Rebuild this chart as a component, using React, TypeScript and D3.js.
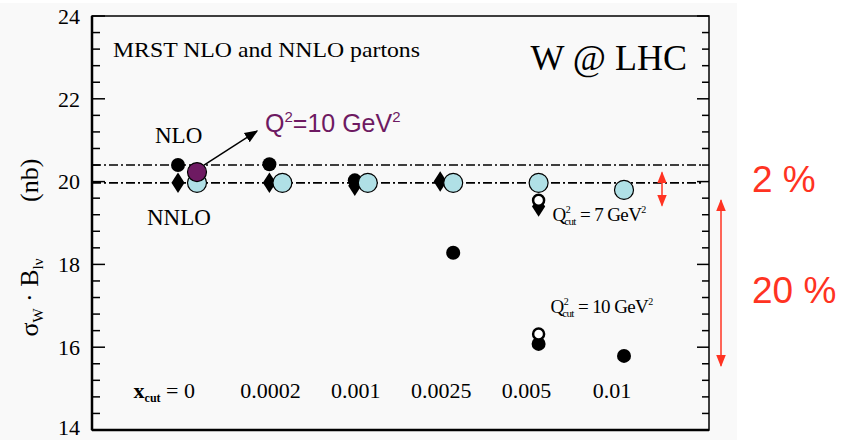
import React, { useEffect, useRef } from "react";
import * as d3 from "d3";

// x_cut categories (labels under the points)
const categories = ["0", "0.0002", "0.001", "0.0025", "0.005", "0.01"];
// sigma_W * B (nb), one per category (NaN = no point)
const nloBlack = [20.4, 20.42, 20.03, 18.28, 16.08, 15.79];
const nnloBlack = [19.97, 19.97, 19.9, 20.0, 19.4, NaN];
const openQ7 = [NaN, NaN, NaN, NaN, 19.55, NaN];
const openQ10 = [NaN, NaN, NaN, NaN, 16.32, NaN];
const nnloCyan = [19.97, 19.97, 19.97, 19.97, 19.97, 19.8];
const purpleQ10 = [20.23, NaN, NaN, NaN, NaN, NaN];
const refLevels = [20.4, 19.97];
const yTicks = [14, 16, 18, 20, 22, 24];

const W = 842, H = 440;
const L = 92, R = 709, T = 16, B = 430;
const serif = "'Liberation Serif', 'Times New Roman', serif";
const sans = "'Liberation Sans', Arial, sans-serif";
const red = "#ff3322";

const App = () => {
  const ref = useRef<SVGSVGElement | null>(null);

  useEffect(() => {
    const svg = d3.select(ref.current);
    svg.selectAll("*").remove();

    const y = d3.scaleLinear().domain([14, 24]).range([B, T]);
    const x = d3.scalePoint<string>().domain(categories).range([L + 105, R - 85]);

    const defs = svg.append("defs");
    defs.append("marker").attr("id", "ah").attr("viewBox", "0 0 10 10")
      .attr("refX", 9).attr("refY", 5).attr("markerWidth", 9).attr("markerHeight", 9)
      .attr("orient", "auto").append("path").attr("d", "M0,1 L10,5 L0,9 z").attr("fill", "#000");
    defs.append("marker").attr("id", "rh").attr("viewBox", "0 0 10 10")
      .attr("refX", 9).attr("refY", 5).attr("markerWidth", 8).attr("markerHeight", 8)
      .attr("orient", "auto-start-reverse").append("path").attr("d", "M0,1 L10,5 L0,9 z").attr("fill", red);

    svg.append("rect").attr("x", 0).attr("y", 3).attr("width", 737).attr("height", H - 3).attr("fill", "#f9f9f9");

    // frame
    svg.append("rect").attr("x", L).attr("y", T).attr("width", R - L).attr("height", B - T)
      .attr("fill", "none").attr("stroke", "#000").attr("stroke-width", 1.5);
    svg.append("line").attr("x1", L).attr("x2", L).attr("y1", T).attr("y2", B)
      .attr("stroke", "#000").attr("stroke-width", 2.5);
    svg.append("line").attr("x1", L).attr("x2", R).attr("y1", B).attr("y2", B)
      .attr("stroke", "#000").attr("stroke-width", 2.5);

    // ticks, every 0.4 with majors on even numbers
    const ticks = d3.range(0, 26).map(i => 14 + i * 0.4);
    ticks.forEach(t => {
      const major = Math.abs(t - Math.round(t)) < 1e-6 && Math.round(t) % 2 === 0;
      svg.append("line").attr("x1", L).attr("x2", L + (major ? 13 : 8))
        .attr("y1", y(t)).attr("y2", y(t)).attr("stroke", "#000").attr("stroke-width", 1.5);
      svg.append("line").attr("x1", R).attr("x2", R - (major ? 12 : 7))
        .attr("y1", y(t)).attr("y2", y(t)).attr("stroke", "#000").attr("stroke-width", 1.5);
    });
    svg.selectAll(".yl").data(yTicks).enter().append("text")
      .attr("x", 80).attr("y", d => Math.min(y(d), B - 3)).attr("dy", "0.35em")
      .attr("text-anchor", "end").attr("font-family", serif).attr("font-size", 22)
      .text(d => d);

    // y label
    const yl = svg.append("g").attr("transform", `translate(38,${y(17.2)}) rotate(-90)`);
    const yt = yl.append("text").attr("font-family", serif).attr("font-size", 26).attr("text-anchor", "middle");
    yt.append("tspan").text("σ");
    yt.append("tspan").attr("font-size", 15).attr("dy", 5).text("W");
    yt.append("tspan").attr("dy", -5).text(" · B");
    yt.append("tspan").attr("font-size", 15).attr("dy", 5).text("lν");
    svg.append("text").attr("transform", `translate(38,${y(20.03)}) rotate(-90)`)
      .attr("font-family", serif).attr("font-size", 26).attr("text-anchor", "middle").text("(nb)");

    // reference dash-dot lines
    refLevels.forEach(v => {
      svg.append("line").attr("x1", L).attr("x2", R - 8).attr("y1", y(v)).attr("y2", y(v))
        .attr("stroke", "#000").attr("stroke-width", 1.6).attr("stroke-dasharray", "9,3,2,3");
    });

    // dodge black markers left when they sit next to the cyan point
    const bx = (v: number, i: number) =>
      x(categories[i])! + (Math.abs(v - nnloCyan[i]) < 0.5 ? (isNaN(purpleQ10[i]) ? -13 : -19) : 0);

    const diamond = d3.symbol().type(d3.symbolDiamond).size(150);
    nnloBlack.forEach((v, i) => {
      if (isNaN(v)) return;
      svg.append("path").attr("d", diamond).attr("fill", "#000")
        .attr("transform", `translate(${bx(v, i)},${y(v)}) scale(1,0.9)`);
    });
    nloBlack.forEach((v, i) => {
      if (isNaN(v)) return;
      svg.append("circle").attr("cx", bx(v, i)).attr("cy", y(v)).attr("r", 7).attr("fill", "#000");
    });
    [openQ7, openQ10].forEach(arr => arr.forEach((v, i) => {
      if (isNaN(v)) return;
      svg.append("circle").attr("cx", x(categories[i])!).attr("cy", y(v)).attr("r", 5.5)
        .attr("fill", "#fff").attr("stroke", "#000").attr("stroke-width", 2.5);
    }));
    nnloCyan.forEach((v, i) => {
      svg.append("circle").attr("cx", x(categories[i])!).attr("cy", y(v)).attr("r", 9.5)
        .attr("fill", "#b0e0e6").attr("stroke", "#000").attr("stroke-width", 1.2);
    });
    purpleQ10.forEach((v, i) => {
      if (isNaN(v)) return;
      svg.append("circle").attr("cx", x(categories[i])!).attr("cy", y(v)).attr("r", 9.5)
        .attr("fill", "#6e1a62").attr("stroke", "#000").attr("stroke-width", 1.2);
    });

    // arrow from purple point to its label
    const x0 = x(categories[0])!;
    svg.append("line").attr("x1", x0 + 7).attr("y1", y(20.23) - 7).attr("x2", x0 + 60).attr("y2", y(21.22))
      .attr("stroke", "#000").attr("stroke-width", 1.5).attr("marker-end", "url(#ah)");
    const qt = svg.append("text").attr("x", x0 + 68).attr("y", y(21.2)).attr("font-family", sans)
      .attr("font-size", 25).attr("fill", "#6e1a62");
    qt.append("tspan").text("Q");
    qt.append("tspan").attr("font-size", 15).attr("dy", -10).text("2");
    qt.append("tspan").attr("dy", 10).text("=10 GeV");
    qt.append("tspan").attr("font-size", 15).attr("dy", -10).text("2");

    // text annotations
    svg.append("text").attr("x", 113).attr("y", 57).attr("font-family", serif).attr("font-size", 21)
      .attr("textLength", 307).attr("lengthAdjust", "spacingAndGlyphs").text("MRST NLO and NNLO partons");
    svg.append("text").attr("x", 687).attr("y", 70).attr("text-anchor", "end").attr("font-family", serif)
      .attr("font-size", 36).text("W @ LHC");
    svg.append("text").attr("x", 155).attr("y", 143).attr("font-family", serif).attr("font-size", 23).text("NLO");
    svg.append("text").attr("x", 147).attr("y", 225).attr("font-family", serif).attr("font-size", 23).text("NNLO");

    const qcut = (xx: number, yy: number, val: string) => {
      const t = svg.append("text").attr("x", xx).attr("y", yy).attr("font-family", serif)
        .attr("font-size", 19).attr("letter-spacing", -0.6);
      t.append("tspan").text("Q");
      t.append("tspan").attr("font-size", 10).attr("dy", -8).text("2");
      t.append("tspan").attr("font-size", 11).attr("dx", -6).attr("dy", 12).text("cut");
      t.append("tspan").attr("dy", -4).text(` = ${val} GeV`);
      t.append("tspan").attr("font-size", 10).attr("dy", -8).text("2");
    };
    qcut(x(categories[4])! + 14, y(19.05), "7");
    qcut(x(categories[4])! + 12, y(16.82), "10");

    // category labels
    const ly = 398;
    categories.forEach((c, i) => {
      if (i === 0) {
        const t = svg.append("text").attr("x", x(c)! - 2).attr("y", ly).attr("text-anchor", "end")
          .attr("font-family", serif).attr("font-size", 22);
        t.append("tspan").attr("font-weight", "bold").text("x");
        t.append("tspan").attr("font-size", 12).attr("font-weight", "bold").attr("dy", 4).text("cut");
        t.append("tspan").attr("dy", -4).text(" = " + c);
      } else {
        svg.append("text").attr("x", x(c)! - 12).attr("y", ly).attr("text-anchor", "middle")
          .attr("font-family", serif).attr("font-size", 22).text(c);
      }
    });

    // red spread annotations
    svg.append("line").attr("x1", 662).attr("x2", 662).attr("y1", y(20.22)).attr("y2", y(19.42))
      .attr("stroke", red).attr("stroke-width", 1.5)
      .attr("marker-start", "url(#rh)").attr("marker-end", "url(#rh)");
    svg.append("line").attr("x1", 721).attr("x2", 721).attr("y1", y(19.55)).attr("y2", y(15.55))
      .attr("stroke", red).attr("stroke-width", 1.5)
      .attr("marker-start", "url(#rh)").attr("marker-end", "url(#rh)");
    svg.append("text").attr("x", 752).attr("y", 192).attr("font-family", sans).attr("font-size", 37)
      .attr("fill", red).text("2 %");
    svg.append("text").attr("x", 752).attr("y", 303).attr("font-family", sans).attr("font-size", 37)
      .attr("fill", red).text("20 %");
  }, []);

  return (
    <svg ref={ref} width={W} height={H}
      style={{ position: "absolute", left: 0, top: 0, display: "block", background: "#fff" }} />
  );
};

export default App;
